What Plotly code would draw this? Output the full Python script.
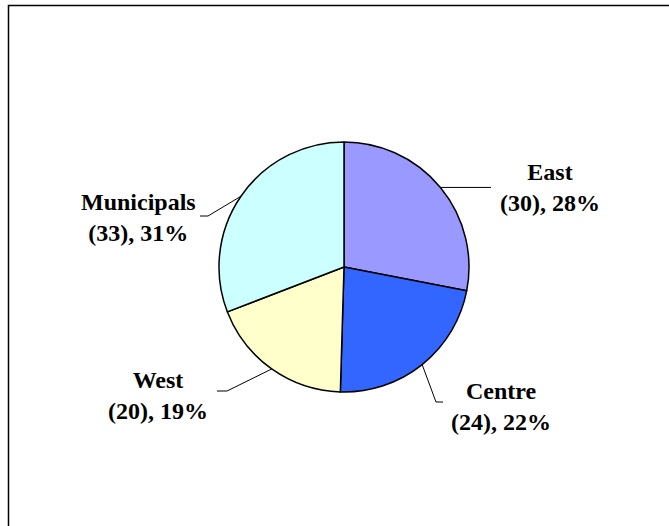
import math
import plotly.graph_objects as go

# Regional breakdown
regions = ["East", "Centre", "West", "Municipals"]
counts = [30, 24, 20, 33]
colors = ["#9999FF", "#3366FF", "#FFFFCC", "#CCFFFF"]

# Page geometry (pixels)
W, H = 669, 526
PIE_CX, PIE_CY, PIE_R = 344, 267, 125

# Label block centres and leader-line elbow / end points (pixels)
label_pos = [(550, 188), (501, 406), (158, 395), (138, 217)]
leader_elbow = [(491, None), (436, 402), (227, 391), (208, 216)]
leader_end = [(491, None), (443, 402), (217, 391), (200, 216)]


def px(x):
    return x / W


def py(y):
    return 1 - y / H


total = sum(counts)
texts = [f"{r}<br>({c}), {round(100 * c / total)}%" for r, c in zip(regions, counts)]

fig = go.Figure(
    go.Pie(
        labels=regions,
        values=counts,
        sort=False,
        direction="clockwise",
        rotation=0,
        marker=dict(colors=colors, line=dict(color="black", width=1.5)),
        textinfo="none",
        hoverinfo="label+value+percent",
        domain=dict(
            x=[px(PIE_CX - PIE_R), px(PIE_CX + PIE_R)],
            y=[py(PIE_CY + PIE_R), py(PIE_CY - PIE_R)],
        ),
    )
)

font = dict(family="Liberation Serif, Times New Roman, serif", size=24,
            color="black", weight="bold")

shapes = []
annotations = []
cum = 0
for i, c in enumerate(counts):
    mid = (cum + c / 2) / total * 2 * math.pi
    cum += c
    sx = PIE_CX + PIE_R * math.sin(mid)
    sy = PIE_CY - PIE_R * math.cos(mid)
    ex, ey = leader_elbow[i]
    fx, fy = leader_end[i]
    ey = sy if ey is None else ey
    fy = sy if fy is None else fy
    path = f"M {px(sx)},{py(sy)} L {px(ex)},{py(ey)} L {px(fx)},{py(fy)}"
    shapes.append(dict(type="path", path=path, xref="paper", yref="paper",
                       line=dict(color="black", width=1)))
    lx, ly = label_pos[i]
    annotations.append(dict(text=texts[i], x=px(lx), y=py(ly), xref="paper",
                            yref="paper", xanchor="center", yanchor="middle",
                            align="center", showarrow=False, font=font))

# Chart-area frame (open on the right and bottom edges of the page)
shapes.append(dict(type="rect", xref="paper", yref="paper",
                   x0=px(8.5), y0=py(540), x1=px(690), y1=py(5.5),
                   line=dict(color="black", width=1.5)))

fig.update_layout(
    width=W, height=H,
    margin=dict(l=0, r=0, t=0, b=0),
    paper_bgcolor="white", plot_bgcolor="white",
    showlegend=False,
    shapes=shapes,
    annotations=annotations,
)

fig.write_html("out.html")
